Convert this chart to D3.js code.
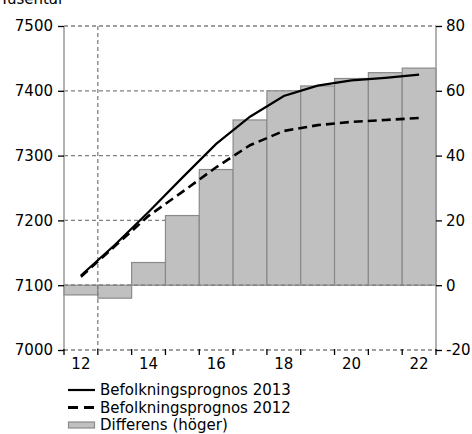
<!DOCTYPE html>
<html>
<head>
<meta charset="utf-8">
<script src="https://cdn.jsdelivr.net/npm/d3@7"></script>
<style>
  body { margin: 0; background: #fff; }
  svg { display: block; font-family: "DejaVu Sans", Verdana, sans-serif; }
</style>
</head>
<body>
<div id="chart"></div>
<script>
    // data
    var years = [2012, 2013, 2014, 2015, 2016, 2017, 2018, 2019, 2020, 2021, 2022],
        prognos2013 = [7115, 7162, 7213, 7266, 7318, 7360, 7392, 7408, 7416, 7420, 7425],
        prognos2012 = [7113, 7160, 7207, 7244, 7282, 7316, 7338, 7347, 7352, 7355, 7358],
        differens = [-3, -4, 7, 21.5, 35.7, 51, 60, 61.5, 63.8, 65.6, 67],
        leftTicks = [7000, 7100, 7200, 7300, 7400, 7500],
        rightTicks = [-20, 0, 20, 40, 60, 80],
        xLabels = [2012, 2014, 2016, 2018, 2020, 2022],
        legendNames = ["Befolkningsprognos 2013", "Befolkningsprognos 2012", "Differens (h\u00f6ger)"];

    var w = 472,
        h = 434,
        plotL = 64,
        plotR = 436,
        plotT = 26,
        plotB = 350,
        fontSize = "15px",
        gridColor = "#808080";

    var svg = d3.select("#chart")
        .append("svg")
        .attr("width", w)
        .attr("height", h);

    var x = d3.scaleBand().domain(years).range([plotL, plotR]).padding(0);
    var yL = d3.scaleLinear().domain([7000, 7500]).range([plotB, plotT]);
    var yR = d3.scaleLinear().domain([-20, 80]).range([plotB, plotT]);

    // horizontal grid lines (under the bars)
    svg.append("g").selectAll("line")
        .data(leftTicks)
        .enter().append("line")
        .attr("x1", plotL).attr("x2", plotR)
        .attr("y1", function(d) { return yL(d); })
        .attr("y2", function(d) { return yL(d); })
        .attr("stroke", gridColor)
        .attr("stroke-width", 1.3)
        .attr("stroke-dasharray", "4,3");

    // bars on the right axis
    svg.append("g").selectAll("rect")
        .data(differens)
        .enter().append("rect")
        .attr("x", function(d, i) { return x(years[i]); })
        .attr("width", x.bandwidth())
        .attr("y", function(d) { return yR(Math.max(0, d)); })
        .attr("height", function(d) { return Math.abs(yR(d) - yR(0)); })
        .attr("fill", "#c0c0c0")
        .attr("stroke", "#8a8a8a")
        .attr("stroke-width", 1.2);

    // zero line dashed over the bars' base
    svg.append("line")
        .attr("x1", plotL).attr("x2", plotR)
        .attr("y1", yR(0)).attr("y2", yR(0))
        .attr("stroke", gridColor)
        .attr("stroke-width", 1.3)
        .attr("stroke-dasharray", "4,3");

    // the single vertical dashed line between 2012 and 2013
    svg.append("line")
        .attr("x1", x(2013)).attr("x2", x(2013))
        .attr("y1", plotT).attr("y2", plotB)
        .attr("stroke", gridColor)
        .attr("stroke-width", 1.3)
        .attr("stroke-dasharray", "4,3");

    // axes - plain numbers, hyphen minus like the original
    var plain = function(d) { return String(d); };
    var leftAxis = d3.axisLeft(yL).tickValues(leftTicks).tickFormat(plain).tickSize(6).tickPadding(5);
    var rightAxis = d3.axisRight(yR).tickValues(rightTicks).tickFormat(plain).tickSize(6).tickPadding(4);

    function styleAxis(g) {
        g.select(".domain").attr("stroke", "#999").attr("stroke-width", 1.5);
        g.selectAll(".tick line").attr("stroke", "#000").attr("stroke-width", 1.3);
        g.selectAll(".tick text").attr("fill", "#000")
            .style("font-size", fontSize)
            .style("font-family", "DejaVu Sans, Verdana, sans-serif");
    }

    svg.append("g")
        .attr("transform", "translate(" + plotL + ",0)")
        .call(leftAxis)
        .call(styleAxis)
        .call(function(g) { g.select(".domain").attr("d", "M0," + plotT + "V" + plotB); });

    svg.append("g")
        .attr("transform", "translate(" + plotR + ",0)")
        .call(rightAxis)
        .call(styleAxis)
        .call(function(g) { g.select(".domain").attr("d", "M0," + plotT + "V" + plotB); });

    // bottom ticks at the bar edges
    var edges = years.map(function(d) { return x(d); }).concat([plotR]);
    svg.append("g").selectAll("line")
        .data(edges)
        .enter().append("line")
        .attr("x1", function(d) { return d; }).attr("x2", function(d) { return d; })
        .attr("y1", plotB - 1).attr("y2", plotB + 5)
        .attr("stroke", "#000")
        .attr("stroke-width", 1.3);

    svg.append("g").selectAll("text")
        .data(xLabels)
        .enter().append("text")
        .attr("x", function(d) { return x(d) + x.bandwidth() / 2; })
        .attr("y", 369)
        .attr("text-anchor", "middle")
        .style("font-size", fontSize)
        .text(function(d) { return String(d).slice(2); });

    // lines
    var line = d3.line()
        .x(function(d, i) { return x(years[i]) + x.bandwidth() / 2; })
        .y(function(d) { return yL(d); });

    svg.append("path")
        .datum(prognos2012)
        .attr("d", line)
        .attr("fill", "none")
        .attr("stroke", "#000")
        .attr("stroke-width", 2.6)
        .attr("stroke-dasharray", "9,5");

    svg.append("path")
        .datum(prognos2013)
        .attr("d", line)
        .attr("fill", "none")
        .attr("stroke", "#000")
        .attr("stroke-width", 2.2);

    // unit title, partly cut at the top
    svg.append("text")
        .attr("x", 0)
        .attr("y", 4)
        .style("font-size", fontSize)
        .text("Tusental");

    // legend
    var legend = svg.append("g").attr("transform", "translate(68,390)");
    var rowH = 17.5;

    legend.append("line")
        .attr("x1", 0).attr("x2", 27).attr("y1", 0).attr("y2", 0)
        .attr("stroke", "#000").attr("stroke-width", 2.2);
    legend.append("line")
        .attr("x1", 0).attr("x2", 27).attr("y1", rowH).attr("y2", rowH)
        .attr("stroke", "#000").attr("stroke-width", 2.8)
        .attr("stroke-dasharray", "10,6");
    legend.append("rect")
        .attr("x", 0.5).attr("y", rowH * 2 - 3).attr("width", 26).attr("height", 6)
        .attr("fill", "#c0c0c0").attr("stroke", "#8a8a8a").attr("stroke-width", 1.2);

    legend.selectAll("text.lbl")
        .data(legendNames)
        .enter().append("text")
        .attr("class", "lbl")
        .attr("x", 32)
        .attr("y", function(d, i) { return i * rowH + 5; })
        .style("font-size", fontSize)
        .text(function(d) { return d; });
</script>
</body>
</html>
